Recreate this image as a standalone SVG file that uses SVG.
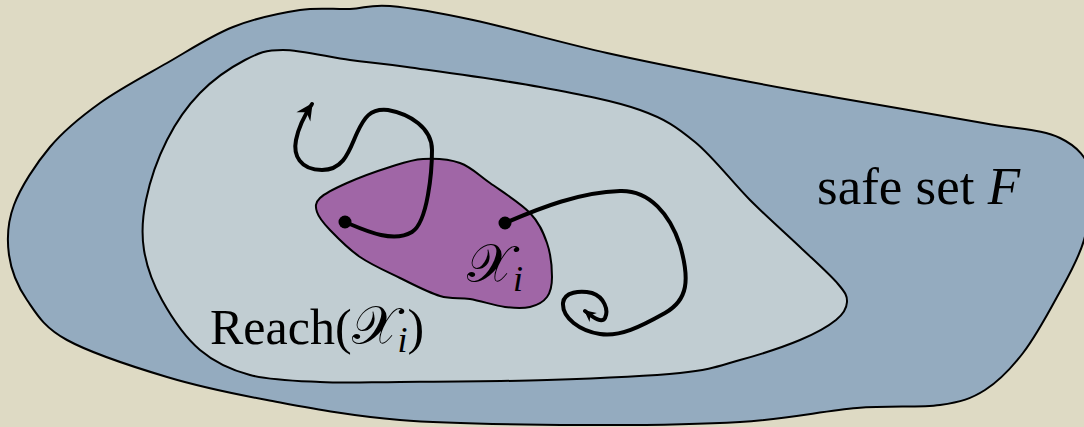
<svg xmlns="http://www.w3.org/2000/svg" width="1084" height="427" viewBox="0 0 1084 427">
<style>
.region{stroke:#000;stroke-width:2;stroke-linejoin:round}
.traj{fill:none;stroke:#000;stroke-width:4;stroke-linecap:round;stroke-linejoin:round}
.lbl{font-family:"Liberation Serif","Times New Roman",serif;fill:#000}
.it{font-style:italic}
.cal{font-family:"DejaVu Serif","Liberation Serif",serif;font-size:54px}
.dot{fill:#000}
</style>
<defs>
<marker id="arrow" markerUnits="userSpaceOnUse" markerWidth="20" markerHeight="20" viewBox="-16 -9 18 18" refX="0" refY="0" orient="auto">
<path d="M1,0 L-14,-7.5 L-9,0 L-14,7.5 Z" fill="#000"/>
</marker>
<marker id="arrowSmall" markerUnits="userSpaceOnUse" markerWidth="14" markerHeight="14" viewBox="-11 -6 12 12" refX="0" refY="0" orient="auto">
<path d="M1,0 L-9,-5 L-6,0 L-9,5 Z" fill="#000"/>
</marker>
</defs>
<rect x="0" y="0" width="1084" height="427" fill="#dedac4"/>
<g id="safe-set">
<path class="region" fill="#94abbf" d="M390,6 C410.5,7.8 436.8,12.2 473,20 C509.2,27.8 562.5,43 607,53 C651.5,63 702.3,72.7 740,80 C777.7,87.3 792.5,89.8 833,97 C873.5,104.2 945.2,116.2 983,123 C1020.8,129.8 1041.8,129.3 1060,138 C1078.2,146.7 1087,158 1092,175 C1096,192 1089.8,219.7 1084,240 C1078.2,260.3 1067.2,278.2 1057,297 C1046.8,315.8 1035,337.5 1023,353 C1011,368.5 998.8,381.3 985,390 C971.2,398.7 961.3,402 940,405 C918.7,408 890.3,405.2 857,408 C823.7,410.8 786.2,419.2 740,422 C693.8,424.8 636.7,425.3 580,425 C523.3,424.7 452.2,424.2 400,420 C347.8,415.8 305.8,407.2 267,400 C228.2,392.8 200.3,387 167,377 C133.7,367 90.3,352.8 67,340 C43.7,327.2 36.7,314.2 27,300 C17.3,285.8 11.2,270.8 9,255 C6.8,239.2 7.2,223 14,205 C20.8,187 35.7,164 50,147 C64.3,130 80.5,117 100,103 C119.5,89 144.8,75.7 167,63 C189.2,50.3 210.8,35.8 233,27 C255.2,18.2 280.5,13 300,10 C319.5,7 335,9.7 350,9 C365,8.3 369.5,4.2 390,6 Z"/>
<text class="lbl" x="817" y="204" font-size="53">safe set <tspan class="it">F</tspan></text>
</g>
<g id="reach">
<path class="region" fill="#c1cdd2" d="M283,50 C300.5,50 329.3,57.2 350,60 C370.7,62.8 375.3,62.5 407,67 C438.7,71.5 501.2,79.8 540,87 C578.8,94.2 614.2,100.8 640,110 C665.8,119.2 676.7,127 695,142 C713.3,157 732.5,182.5 750,200 C767.5,217.5 785.3,233 800,247 C814.7,261 830.2,274.8 838,284 C845.8,293.2 847.3,296 847,302 C846.7,308 843.8,313.7 836,320 C828.2,326.3 816,333.3 800,340 C784,346.7 760,354.5 740,360 C720,365.5 712.2,369.7 680,373 C647.8,376.3 593.7,378.5 547,380 C500.3,381.5 437.8,381.7 400,382 C362.2,382.3 345,383.2 320,382 C295,380.8 270,380.3 250,375 C230,369.7 214.7,362.5 200,350 C185.3,337.5 171.3,316.7 162,300 C152.7,283.3 146.7,266.7 144,250 C141.3,233.3 142.2,218.3 146,200 C149.8,181.7 158,157.8 167,140 C176,122.2 187,106.3 200,93 C213,79.7 231.2,67.2 245,60 C258.8,52.8 265.5,50 283,50 Z"/>
<text class="lbl" x="210" y="344" font-size="50">Reach(<tspan class="cal">𝒳</tspan><tspan class="it" font-size="36" dy="8">i</tspan><tspan dy="-8">)</tspan></text>
</g>
<g id="initial-set">
<path class="region" fill="#a066a6" d="M423,159 C434.7,158.3 448.8,159 460,163 C471.2,167 478.3,174.7 490,183 C501.7,191.3 520.5,203 530,213 C539.5,223 543.3,232.3 547,243 C550.7,253.7 552,268 552,277 C552,286 550.7,292 547,297 C543.3,302 537,305.3 530,307 C523,308.7 515,308.3 505,307 C495,305.7 480.8,300.8 470,299 C459.2,297.2 451.7,299.5 440,296 C428.3,292.5 413.3,284.5 400,278 C386.7,271.5 371.7,265 360,257 C348.3,249 337.2,237.5 330,230 C322.8,222.5 318.7,217.3 317,212 C315.3,206.7 315,202.8 320,198 C325,193.2 335.3,188.2 347,183 C358.7,177.8 377.3,171 390,167 C402.7,163 411.3,159.7 423,159 Z"/>
<text class="lbl" x="467" y="282" font-size="50"><tspan class="cal">𝒳</tspan><tspan class="it" font-size="36" dy="9">i</tspan></text>
</g>
<g id="connectors">
<path class="traj" marker-end="url(#arrow)" d="M345,222 C362,229 392,244 412,232 C428,222 432,170 432,150 C432,128 410,114 388,110 C370,108 364,118 357,133 C350,148 345,170 322,170 C300,170 293,155 296,140 C299,125 306,113 312,104"/>
<path class="traj" marker-end="url(#arrowSmall)" d="M505,223 C540,208 580,192 620,191 C650,190 670,215 680,245 C690,280 688,300 665,313 C640,327 620,337 600,334 C580,331 562,318 563,303 C564,292 580,290 592,293 C604,297 609,310 605,318 C602,323 595,319 585,311"/>
<circle class="dot" cx="345" cy="222" r="6.5"/>
<circle class="dot" cx="505" cy="223" r="6.5"/>
</g>
</svg>
